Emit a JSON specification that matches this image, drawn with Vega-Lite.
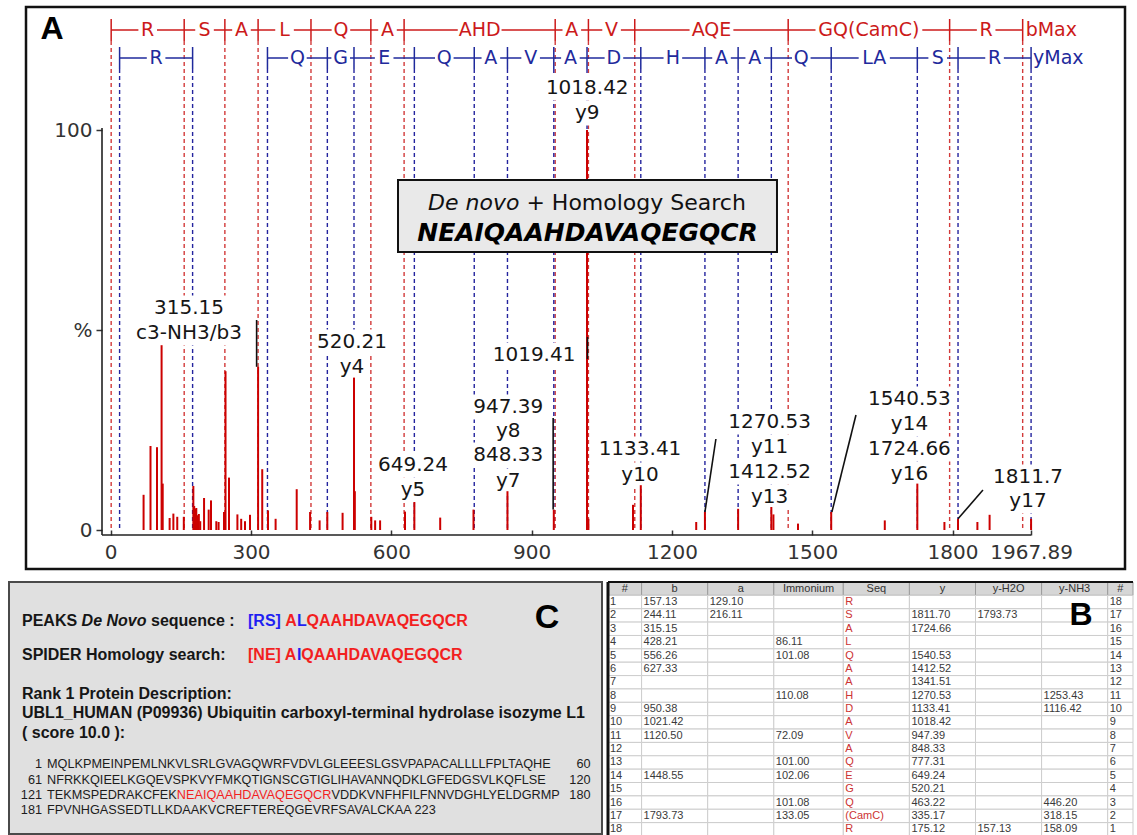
{
  "$schema": "https://vega.github.io/schema/vega-lite/v6.json",
  "background": "white",
  "padding": {"left": 8, "top": 5, "right": 0, "bottom": 0},
  "spacing": 9,
  "config": {"view": {"stroke": null}, "font": "Liberation Sans"},
  "datasets": {
    "peaks": [
      {"mz": 70.3, "I": 8.8}, {"mz": 85.1, "I": 21}, {"mz": 99, "I": 20.7}, {"mz": 108.8, "I": 46.2}, {"mz": 111.2, "I": 11.6},
      {"mz": 126, "I": 3}, {"mz": 134, "I": 4.1}, {"mz": 142.3, "I": 3.3}, {"mz": 156.3, "I": 3.3}, {"mz": 176.7, "I": 11},
      {"mz": 178.5, "I": 6}, {"mz": 180.8, "I": 5.3}, {"mz": 183, "I": 5.5}, {"mz": 186.6, "I": 3.7}, {"mz": 188.5, "I": 4},
      {"mz": 191.4, "I": 2.2}, {"mz": 199.6, "I": 8}, {"mz": 209.5, "I": 5.1}, {"mz": 214.4, "I": 7.4}, {"mz": 225.8, "I": 2.2},
      {"mz": 230.7, "I": 2}, {"mz": 242.2, "I": 4.5}, {"mz": 245.5, "I": 39.7}, {"mz": 252.9, "I": 13.1}, {"mz": 270.9, "I": 3.9},
      {"mz": 279, "I": 2.8}, {"mz": 287.2, "I": 2.2}, {"mz": 297.8, "I": 3.8}, {"mz": 315.15, "I": 40.8}, {"mz": 324, "I": 15.2},
      {"mz": 336.3, "I": 4.9}, {"mz": 352.6, "I": 2.8}, {"mz": 397.7, "I": 10.2}, {"mz": 426.3, "I": 4.5}, {"mz": 446.7, "I": 2.4},
      {"mz": 463.1, "I": 4.5}, {"mz": 495.8, "I": 4.3}, {"mz": 520.21, "I": 38.1}, {"mz": 522, "I": 9.7}, {"mz": 557.2, "I": 3.3},
      {"mz": 565.4, "I": 2.4}, {"mz": 576, "I": 2.4}, {"mz": 629.3, "I": 4.6}, {"mz": 649.24, "I": 7}, {"mz": 704.5, "I": 3.1},
      {"mz": 775.7, "I": 5.1}, {"mz": 848.33, "I": 9.7}, {"mz": 947.39, "I": 5.1}, {"mz": 1018.42, "I": 100}, {"mz": 1021.4, "I": 2.8},
      {"mz": 1116.8, "I": 6.3}, {"mz": 1133.41, "I": 11.2}, {"mz": 1251.9, "I": 2}, {"mz": 1270.53, "I": 4.5}, {"mz": 1341.51, "I": 5.3},
      {"mz": 1412.52, "I": 5.75}, {"mz": 1417, "I": 3.9}, {"mz": 1469.5, "I": 1.6}, {"mz": 1540.53, "I": 4.5}, {"mz": 1655.1, "I": 2.4},
      {"mz": 1724.66, "I": 11.6}, {"mz": 1782.6, "I": 2}, {"mz": 1811.7, "I": 2.8}, {"mz": 1853.1, "I": 2}, {"mz": 1879.2, "I": 3.8},
      {"mz": 1967.89, "I": 2.8}
    ],
    "bions": [
      {"mz": 1.01}, {"mz": 157.13}, {"mz": 244.11}, {"mz": 315.15}, {"mz": 428.21}, {"mz": 556.26}, {"mz": 627.33},
      {"mz": 950.38}, {"mz": 1021.42}, {"mz": 1120.5}, {"mz": 1448.55}, {"mz": 1793.73}, {"mz": 1949.9}
    ],
    "yions": [
      {"mz": 19.02}, {"mz": 175.12}, {"mz": 335.17}, {"mz": 463.22}, {"mz": 520.21}, {"mz": 649.24}, {"mz": 777.31},
      {"mz": 848.33}, {"mz": 947.39}, {"mz": 1018.42}, {"mz": 1133.41}, {"mz": 1270.53}, {"mz": 1341.51}, {"mz": 1412.52},
      {"mz": 1540.53}, {"mz": 1724.66}, {"mz": 1811.7}, {"mz": 1967.89}
    ],
    "bseg": [
      {"mz": 1.01, "mz2": 157.13, "res": "R"}, {"mz": 157.13, "mz2": 244.11, "res": "S"}, {"mz": 244.11, "mz2": 315.15, "res": "A"},
      {"mz": 315.15, "mz2": 428.21, "res": "L"}, {"mz": 428.21, "mz2": 556.26, "res": "Q"}, {"mz": 556.26, "mz2": 627.33, "res": "A"},
      {"mz": 627.33, "mz2": 950.38, "res": "AHD"}, {"mz": 950.38, "mz2": 1021.42, "res": "A"}, {"mz": 1021.42, "mz2": 1120.5, "res": "V"},
      {"mz": 1120.5, "mz2": 1448.55, "res": "AQE"}, {"mz": 1448.55, "mz2": 1793.73, "res": "GQ(CamC)"}, {"mz": 1793.73, "mz2": 1949.9, "res": "R"}
    ],
    "yseg": [
      {"mz": 19.02, "mz2": 175.12, "res": "R"}, {"mz": 335.17, "mz2": 463.22, "res": "Q"}, {"mz": 463.22, "mz2": 520.21, "res": "G"},
      {"mz": 520.21, "mz2": 649.24, "res": "E"}, {"mz": 649.24, "mz2": 777.31, "res": "Q"}, {"mz": 777.31, "mz2": 848.33, "res": "A"},
      {"mz": 848.33, "mz2": 947.39, "res": "V"}, {"mz": 947.39, "mz2": 1018.42, "res": "A"}, {"mz": 1018.42, "mz2": 1133.41, "res": "D"},
      {"mz": 1133.41, "mz2": 1270.53, "res": "H"}, {"mz": 1270.53, "mz2": 1341.51, "res": "A"}, {"mz": 1341.51, "mz2": 1412.52, "res": "A"},
      {"mz": 1412.52, "mz2": 1540.53, "res": "Q"}, {"mz": 1540.53, "mz2": 1724.66, "res": "LA"}, {"mz": 1724.66, "mz2": 1811.7, "res": "S"},
      {"mz": 1811.7, "mz2": 1967.89, "res": "R"}
    ],
    "labels": [
      {"t": "1018.42", "mz": 1018.9, "I": 110.5}, {"t": "y9", "mz": 1018.9, "I": 104.25},
      {"t": "315.15", "mz": 167.4, "I": 55.5}, {"t": "c3-NH3/b3", "mz": 167.4, "I": 49.25},
      {"t": "520.21", "mz": 515.8, "I": 47}, {"t": "y4", "mz": 515.8, "I": 40.75},
      {"t": "1019.41", "mz": 905.2, "I": 43.75},
      {"t": "947.39", "mz": 849.9, "I": 30.75}, {"t": "y8", "mz": 849.9, "I": 24.75},
      {"t": "848.33", "mz": 849.9, "I": 18.75}, {"t": "y7", "mz": 849.9, "I": 12.25},
      {"t": "649.24", "mz": 646.4, "I": 16.25}, {"t": "y5", "mz": 646.4, "I": 10},
      {"t": "1133.41", "mz": 1131.7, "I": 20.25}, {"t": "y10", "mz": 1131.7, "I": 13.75},
      {"t": "1270.53", "mz": 1408.8, "I": 27}, {"t": "y11", "mz": 1408.8, "I": 20.75},
      {"t": "1412.52", "mz": 1408.8, "I": 14.5}, {"t": "y13", "mz": 1408.8, "I": 8.25},
      {"t": "1540.53", "mz": 1707.9, "I": 32.75}, {"t": "y14", "mz": 1707.9, "I": 26.5},
      {"t": "1724.66", "mz": 1707.9, "I": 20.25}, {"t": "y16", "mz": 1707.9, "I": 14},
      {"t": "1811.7", "mz": 1961.3, "I": 13.25}, {"t": "y17", "mz": 1961.3, "I": 7.25}
    ],
    "leaders": [
      {"mz": 312, "I": 40.8, "mz2": 312, "I2": 52.5},
      {"mz": 1019.5, "I": 42.75, "mz2": 1019.5, "I2": 48.25},
      {"mz": 946, "I": 5.1, "mz2": 946, "I2": 28},
      {"mz": 1270.5, "I": 4.5, "mz2": 1294, "I2": 22.75},
      {"mz": 1542, "I": 4.5, "mz2": 1593.5, "I2": 28.75},
      {"mz": 1811.7, "I": 2.8, "mz2": 1865, "I2": 10}
    ],
    "axislines": [
      {"mz": -18.6, "mz2": 1967.89, "I": -1.25, "I2": -1.25},
      {"mz": -18.6, "mz2": -18.6, "I": -1.25, "I2": 100.5}
    ],
    "columns": [
      {"col": "n", "label": "#", "x0": 0, "x1": 33.6},
      {"col": "b", "label": "b", "x0": 33.6, "x1": 99.7},
      {"col": "a", "label": "a", "x0": 99.7, "x1": 165.8},
      {"col": "imm", "label": "Immonium", "x0": 165.8, "x1": 235.3},
      {"col": "seq", "label": "Seq", "x0": 235.3, "x1": 301.4},
      {"col": "y", "label": "y", "x0": 301.4, "x1": 367.5},
      {"col": "yh2o", "label": "y-H2O", "x0": 367.5, "x1": 433.6},
      {"col": "ynh3", "label": "y-NH3", "x0": 433.6, "x1": 499.7},
      {"col": "n2", "label": "#", "x0": 499.7, "x1": 525}
    ],
    "table": [
      {"r": 1, "n": "1", "b": "157.13", "a": "129.10", "imm": "", "seq": "R", "y": "", "yh2o": "", "ynh3": "", "n2": "18"},
      {"r": 2, "n": "2", "b": "244.11", "a": "216.11", "imm": "", "seq": "S", "y": "1811.70", "yh2o": "1793.73", "ynh3": "", "n2": "17"},
      {"r": 3, "n": "3", "b": "315.15", "a": "", "imm": "", "seq": "A", "y": "1724.66", "yh2o": "", "ynh3": "", "n2": "16"},
      {"r": 4, "n": "4", "b": "428.21", "a": "", "imm": "86.11", "seq": "L", "y": "", "yh2o": "", "ynh3": "", "n2": "15"},
      {"r": 5, "n": "5", "b": "556.26", "a": "", "imm": "101.08", "seq": "Q", "y": "1540.53", "yh2o": "", "ynh3": "", "n2": "14"},
      {"r": 6, "n": "6", "b": "627.33", "a": "", "imm": "", "seq": "A", "y": "1412.52", "yh2o": "", "ynh3": "", "n2": "13"},
      {"r": 7, "n": "7", "b": "", "a": "", "imm": "", "seq": "A", "y": "1341.51", "yh2o": "", "ynh3": "", "n2": "12"},
      {"r": 8, "n": "8", "b": "", "a": "", "imm": "110.08", "seq": "H", "y": "1270.53", "yh2o": "", "ynh3": "1253.43", "n2": "11"},
      {"r": 9, "n": "9", "b": "950.38", "a": "", "imm": "", "seq": "D", "y": "1133.41", "yh2o": "", "ynh3": "1116.42", "n2": "10"},
      {"r": 10, "n": "10", "b": "1021.42", "a": "", "imm": "", "seq": "A", "y": "1018.42", "yh2o": "", "ynh3": "", "n2": "9"},
      {"r": 11, "n": "11", "b": "1120.50", "a": "", "imm": "72.09", "seq": "V", "y": "947.39", "yh2o": "", "ynh3": "", "n2": "8"},
      {"r": 12, "n": "12", "b": "", "a": "", "imm": "", "seq": "A", "y": "848.33", "yh2o": "", "ynh3": "", "n2": "7"},
      {"r": 13, "n": "13", "b": "", "a": "", "imm": "101.00", "seq": "Q", "y": "777.31", "yh2o": "", "ynh3": "", "n2": "6"},
      {"r": 14, "n": "14", "b": "1448.55", "a": "", "imm": "102.06", "seq": "E", "y": "649.24", "yh2o": "", "ynh3": "", "n2": "5"},
      {"r": 15, "n": "15", "b": "", "a": "", "imm": "", "seq": "G", "y": "520.21", "yh2o": "", "ynh3": "", "n2": "4"},
      {"r": 16, "n": "16", "b": "", "a": "", "imm": "101.08", "seq": "Q", "y": "463.22", "yh2o": "", "ynh3": "446.20", "n2": "3"},
      {"r": 17, "n": "17", "b": "1793.73", "a": "", "imm": "133.05", "seq": "(CamC)", "y": "335.17", "yh2o": "", "ynh3": "318.15", "n2": "2"},
      {"r": 18, "n": "18", "b": "", "a": "", "imm": "", "seq": "R", "y": "175.12", "yh2o": "157.13", "ynh3": "158.09", "n2": "1"}
    ],
    "ctext": [
      {"kind": "label", "t": "PEAKS", "x": 13, "y": 39},
      {"kind": "label-it", "t": "De Novo", "x": 72.6, "y": 39},
      {"kind": "label", "t": "sequence :", "x": 142, "y": 39},
      {"kind": "blue", "t": "[RS]", "x": 239, "y": 39},
      {"kind": "red", "t": "A", "x": 276.3, "y": 39},
      {"kind": "blue", "t": "L", "x": 287.9, "y": 39},
      {"kind": "red", "t": "QAAHDAVAQEGQCR", "x": 297.6, "y": 39},
      {"kind": "label", "t": "SPIDER Homology search:", "x": 13, "y": 73},
      {"kind": "red", "t": "[NE] A", "x": 239, "y": 73},
      {"kind": "blue", "t": "I", "x": 287.9, "y": 73},
      {"kind": "red", "t": "QAAHDAVAQEGQCR", "x": 292.3, "y": 73},
      {"kind": "label", "t": "Rank 1 Protein Description:", "x": 13, "y": 112},
      {"kind": "label", "t": "UBL1_HUMAN (P09936) Ubiquitin carboxyl-terminal hydrolase isozyme L1", "x": 13, "y": 131},
      {"kind": "label", "t": "( score 10.0 ):", "x": 13, "y": 151},
      {"kind": "num", "t": "1", "x": 33, "y": 182},
      {"kind": "seq", "t": "MQLKPMEINPEMLNKVLSRLGVAGQWRFVDVLGLEEESLGSVPAPACALLLLFPLTAQHE", "x": 38, "y": 182},
      {"kind": "num", "t": "60", "x": 581.5, "y": 182},
      {"kind": "num", "t": "61", "x": 33, "y": 197.5},
      {"kind": "seq", "t": "NFRKKQIEELKGQEVSPKVYFMKQTIGNSCGTIGLIHAVANNQDKLGFEDGSVLKQFLSE", "x": 38, "y": 197.5},
      {"kind": "num", "t": "120", "x": 581.5, "y": 197.5},
      {"kind": "num", "t": "121", "x": 33, "y": 213},
      {"kind": "seq", "t": "TEKMSPEDRAKCFEK", "x": 38, "y": 213},
      {"kind": "seq-red", "t": "NEAIQAAHDAVAQEGQCR", "x": 167.8, "y": 213},
      {"kind": "seq", "t": "VDDKVNFHFILFNNVDGHLYELDGRMP", "x": 322.6, "y": 213},
      {"kind": "num", "t": "180", "x": 581.5, "y": 213},
      {"kind": "num", "t": "181", "x": 33, "y": 228},
      {"kind": "seq", "t": "FPVNHGASSEDTLLKDAAKVCREFTEREQGEVRFSAVALCKAA 223", "x": 38, "y": 228},
      {"kind": "big", "t": "C", "x": 538, "y": 36}
    ]
  },
  "vconcat": [
    {
      "hconcat": [
        {"width": 15, "height": 10, "data": {"values": [{}]}, "mark": {"type": "point", "opacity": 0, "size": 1}},
        {
          "width": 1099,
          "height": 562,
          "view": {"stroke": "#111111", "strokeWidth": 2.5, "fill": "white"},
          "layer": [
            {
              "data": {"name": "bions"},
              "mark": {"type": "rule", "color": "#d23a3a", "strokeWidth": 1.4, "strokeDash": [4, 3]},
              "encoding": {
                "x": {"field": "mz", "type": "quantitative", "scale": {"domain": [-181.1, 2168.7], "nice": false, "zero": false}},
                "y": {"datum": 122.25, "type": "quantitative", "scale": {"domain": [-9.75, 130.75], "nice": false, "zero": false}},
                "y2": {"datum": 0}
              }
            },
            {
              "data": {"name": "yions"},
              "mark": {"type": "rule", "color": "#24249e", "strokeWidth": 1.4, "strokeDash": [4, 3]},
              "encoding": {
                "x": {"field": "mz", "type": "quantitative", "scale": {"domain": [-181.1, 2168.7], "nice": false, "zero": false}},
                "y": {"datum": 115.25, "type": "quantitative", "scale": {"domain": [-9.75, 130.75], "nice": false, "zero": false}},
                "y2": {"datum": 0}
              }
            },
            {
              "data": {"name": "bseg"},
              "mark": {"type": "rule", "color": "#cc1a1a", "strokeWidth": 1.5},
              "encoding": {
                "x": {"field": "mz", "type": "quantitative", "scale": {"domain": [-181.1, 2168.7], "nice": false, "zero": false}},
                "x2": {"field": "mz2"},
                "y": {"datum": 125, "type": "quantitative", "scale": {"domain": [-9.75, 130.75], "nice": false, "zero": false}}
              }
            },
            {
              "data": {"name": "bions"},
              "mark": {"type": "rule", "color": "#cc1a1a", "strokeWidth": 1.5},
              "encoding": {
                "x": {"field": "mz", "type": "quantitative", "scale": {"domain": [-181.1, 2168.7], "nice": false, "zero": false}},
                "y": {"datum": 127.75, "type": "quantitative", "scale": {"domain": [-9.75, 130.75], "nice": false, "zero": false}},
                "y2": {"datum": 122.25}
              }
            },
            {
              "data": {"name": "yseg"},
              "mark": {"type": "rule", "color": "#1f2a9c", "strokeWidth": 1.5},
              "encoding": {
                "x": {"field": "mz", "type": "quantitative", "scale": {"domain": [-181.1, 2168.7], "nice": false, "zero": false}},
                "x2": {"field": "mz2"},
                "y": {"datum": 118, "type": "quantitative", "scale": {"domain": [-9.75, 130.75], "nice": false, "zero": false}}
              }
            },
            {
              "data": {"name": "yions"},
              "mark": {"type": "rule", "color": "#1f2a9c", "strokeWidth": 1.5},
              "encoding": {
                "x": {"field": "mz", "type": "quantitative", "scale": {"domain": [-181.1, 2168.7], "nice": false, "zero": false}},
                "y": {"datum": 120.75, "type": "quantitative", "scale": {"domain": [-9.75, 130.75], "nice": false, "zero": false}},
                "y2": {"datum": 115.25}
              }
            },
            {
              "data": {"name": "bseg"},
              "transform": [
                {"calculate": "(datum.mz + datum.mz2) / 2", "as": "mid"},
                {"calculate": "(length(datum.res) * 6.3 + 3) / 0.4677", "as": "hw"},
                {"calculate": "datum.mid - datum.hw", "as": "bx1"},
                {"calculate": "datum.mid + datum.hw", "as": "bx2"}
              ],
              "mark": {"type": "rect", "fill": "white"},
              "encoding": {
                "x": {"field": "bx1", "type": "quantitative", "scale": {"domain": [-181.1, 2168.7], "nice": false, "zero": false}},
                "x2": {"field": "bx2"},
                "y": {"datum": 122.9, "type": "quantitative", "scale": {"domain": [-9.75, 130.75], "nice": false, "zero": false}},
                "y2": {"datum": 127.1}
              }
            },
            {
              "data": {"name": "yseg"},
              "transform": [
                {"calculate": "(datum.mz + datum.mz2) / 2", "as": "mid"},
                {"calculate": "(length(datum.res) * 6.3 + 3) / 0.4677", "as": "hw"},
                {"calculate": "datum.mid - datum.hw", "as": "bx1"},
                {"calculate": "datum.mid + datum.hw", "as": "bx2"}
              ],
              "mark": {"type": "rect", "fill": "white"},
              "encoding": {
                "x": {"field": "bx1", "type": "quantitative", "scale": {"domain": [-181.1, 2168.7], "nice": false, "zero": false}},
                "x2": {"field": "bx2"},
                "y": {"datum": 115.9, "type": "quantitative", "scale": {"domain": [-9.75, 130.75], "nice": false, "zero": false}},
                "y2": {"datum": 120.1}
              }
            },
            {
              "data": {"name": "bseg"},
              "transform": [{"calculate": "(datum.mz + datum.mz2) / 2", "as": "mid"}],
              "mark": {"type": "text", "font": "DejaVu Sans", "fontSize": 19, "color": "#cc1a1a", "baseline": "middle"},
              "encoding": {
                "x": {"field": "mid", "type": "quantitative", "scale": {"domain": [-181.1, 2168.7], "nice": false, "zero": false}},
                "y": {"datum": 125, "type": "quantitative", "scale": {"domain": [-9.75, 130.75], "nice": false, "zero": false}},
                "text": {"field": "res"}
              }
            },
            {
              "data": {"name": "yseg"},
              "transform": [{"calculate": "(datum.mz + datum.mz2) / 2", "as": "mid"}],
              "mark": {"type": "text", "font": "DejaVu Sans", "fontSize": 19, "color": "#1f2a9c", "baseline": "middle"},
              "encoding": {
                "x": {"field": "mid", "type": "quantitative", "scale": {"domain": [-181.1, 2168.7], "nice": false, "zero": false}},
                "y": {"datum": 118, "type": "quantitative", "scale": {"domain": [-9.75, 130.75], "nice": false, "zero": false}},
                "text": {"field": "res"}
              }
            },
            {
              "data": {"values": [{"t": "bMax", "mz": 1949.9}]},
              "mark": {"type": "text", "font": "DejaVu Sans", "fontSize": 19, "color": "#cc1a1a", "baseline": "middle", "align": "left", "dx": 3},
              "encoding": {
                "x": {"field": "mz", "type": "quantitative", "scale": {"domain": [-181.1, 2168.7], "nice": false, "zero": false}},
                "y": {"datum": 125, "type": "quantitative", "scale": {"domain": [-9.75, 130.75], "nice": false, "zero": false}},
                "text": {"field": "t"}
              }
            },
            {
              "data": {"values": [{"t": "yMax", "mz": 1967.89}]},
              "mark": {"type": "text", "font": "DejaVu Sans", "fontSize": 19, "color": "#1f2a9c", "baseline": "middle", "align": "left", "dx": 2},
              "encoding": {
                "x": {"field": "mz", "type": "quantitative", "scale": {"domain": [-181.1, 2168.7], "nice": false, "zero": false}},
                "y": {"datum": 118, "type": "quantitative", "scale": {"domain": [-9.75, 130.75], "nice": false, "zero": false}},
                "text": {"field": "t"}
              }
            },
            {
              "data": {"name": "labels"},
              "transform": [
                {"calculate": "(length(datum.t) * 6 + 4) / 0.4677", "as": "hw"},
                {"calculate": "datum.mz - datum.hw", "as": "bx1"},
                {"calculate": "datum.mz + datum.hw", "as": "bx2"},
                {"calculate": "datum.I - 3.15", "as": "by1"},
                {"calculate": "datum.I + 3.15", "as": "by2"}
              ],
              "mark": {"type": "rect", "fill": "white"},
              "encoding": {
                "x": {"field": "bx1", "type": "quantitative", "scale": {"domain": [-181.1, 2168.7], "nice": false, "zero": false}},
                "x2": {"field": "bx2"},
                "y": {"field": "by1", "type": "quantitative", "scale": {"domain": [-9.75, 130.75], "nice": false, "zero": false}},
                "y2": {"field": "by2"}
              }
            },
            {
              "data": {"name": "peaks"},
              "mark": {"type": "rule", "color": "#cc0000", "strokeWidth": 2},
              "encoding": {
                "x": {
                  "field": "mz", "type": "quantitative",
                  "scale": {"domain": [-181.1, 2168.7], "nice": false, "zero": false},
                  "axis": {
                    "orient": "bottom", "offset": -34, "domain": false, "grid": false,
                    "values": [0, 300, 600, 900, 1200, 1500, 1800, 1967.89],
                    "labelExpr": "datum.value > 1900 ? '1967.89' : format(datum.value, 'd')",
                    "tickSize": -5, "tickColor": "#333333", "tickWidth": 1.5,
                    "labelFont": "DejaVu Sans", "labelFontSize": 20, "labelColor": "#333333",
                    "labelPadding": 12, "labelOverlap": false, "labelFlush": false, "title": null
                  }
                },
                "y": {
                  "field": "I", "type": "quantitative",
                  "scale": {"domain": [-9.75, 130.75], "nice": false, "zero": false},
                  "axis": {
                    "orient": "left", "offset": -76, "domain": false, "grid": false,
                    "values": [0, 50, 100],
                    "labelExpr": "datum.value == 50 ? '%' : format(datum.value, 'd')",
                    "tickSize": 6, "tickColor": "#333333", "tickWidth": 1.5,
                    "labelFont": "DejaVu Sans", "labelFontSize": 20, "labelColor": "#333333",
                    "labelPadding": 4, "title": null
                  }
                },
                "y2": {"datum": 0}
              }
            },
            {
              "data": {"name": "leaders"},
              "mark": {"type": "rule", "color": "#111111", "strokeWidth": 1.6},
              "encoding": {
                "x": {"field": "mz", "type": "quantitative", "scale": {"domain": [-181.1, 2168.7], "nice": false, "zero": false}},
                "x2": {"field": "mz2"},
                "y": {"field": "I", "type": "quantitative", "scale": {"domain": [-9.75, 130.75], "nice": false, "zero": false}},
                "y2": {"field": "I2"}
              }
            },
            {
              "data": {"name": "labels"},
              "mark": {"type": "text", "font": "DejaVu Sans", "fontSize": 20, "color": "#161616", "baseline": "middle"},
              "encoding": {
                "x": {"field": "mz", "type": "quantitative", "scale": {"domain": [-181.1, 2168.7], "nice": false, "zero": false}},
                "y": {"field": "I", "type": "quantitative", "scale": {"domain": [-9.75, 130.75], "nice": false, "zero": false}},
                "text": {"field": "t"}
              }
            },
            {
              "data": {"name": "axislines"},
              "mark": {"type": "rule", "color": "#222222", "strokeWidth": 1.6},
              "encoding": {
                "x": {"field": "mz", "type": "quantitative", "scale": {"domain": [-181.1, 2168.7], "nice": false, "zero": false}},
                "x2": {"field": "mz2"},
                "y": {"field": "I", "type": "quantitative", "scale": {"domain": [-9.75, 130.75], "nice": false, "zero": false}},
                "y2": {"field": "I2"}
              }
            },
            {
              "data": {"values": [{"mz": 614.3, "mz2": 1424.6, "I": 87.5, "I2": 69.5}]},
              "mark": {"type": "rect", "fill": "#e9e9e9", "stroke": "#111111", "strokeWidth": 2},
              "encoding": {
                "x": {"field": "mz", "type": "quantitative", "scale": {"domain": [-181.1, 2168.7], "nice": false, "zero": false}},
                "x2": {"field": "mz2"},
                "y": {"field": "I", "type": "quantitative", "scale": {"domain": [-9.75, 130.75], "nice": false, "zero": false}},
                "y2": {"field": "I2"}
              }
            },
            {
              "data": {"values": [{"t": "De novo", "mz": 873.9, "I": 81.75}]},
              "mark": {"type": "text", "font": "DejaVu Sans", "fontSize": 22, "fontStyle": "italic", "color": "#111111", "align": "right", "baseline": "middle"},
              "encoding": {
                "x": {"field": "mz", "type": "quantitative", "scale": {"domain": [-181.1, 2168.7], "nice": false, "zero": false}},
                "y": {"field": "I", "type": "quantitative", "scale": {"domain": [-9.75, 130.75], "nice": false, "zero": false}},
                "text": {"field": "t"}
              }
            },
            {
              "data": {"values": [{"t": "+ Homology Search", "mz": 873.9, "I": 81.75}]},
              "mark": {"type": "text", "font": "DejaVu Sans", "fontSize": 22, "color": "#111111", "align": "left", "baseline": "middle", "dx": 7},
              "encoding": {
                "x": {"field": "mz", "type": "quantitative", "scale": {"domain": [-181.1, 2168.7], "nice": false, "zero": false}},
                "y": {"field": "I", "type": "quantitative", "scale": {"domain": [-9.75, 130.75], "nice": false, "zero": false}},
                "text": {"field": "t"}
              }
            },
            {
              "data": {"values": [{"t": "NEAIQAAHDAVAQEGQCR", "mz": 1019.5, "I": 74.25}]},
              "mark": {"type": "text", "font": "DejaVu Sans", "fontSize": 25, "fontStyle": "italic", "fontWeight": "bold", "color": "#000000", "align": "center", "baseline": "middle"},
              "encoding": {
                "x": {"field": "mz", "type": "quantitative", "scale": {"domain": [-181.1, 2168.7], "nice": false, "zero": false}},
                "y": {"field": "I", "type": "quantitative", "scale": {"domain": [-9.75, 130.75], "nice": false, "zero": false}},
                "text": {"field": "t"}
              }
            },
            {
              "data": {"values": [{"t": "A", "mz": -125.5, "I": 125.25}]},
              "mark": {"type": "text", "font": "Liberation Sans", "fontSize": 32, "fontWeight": "bold", "color": "#000000", "align": "center", "baseline": "middle"},
              "encoding": {
                "x": {"field": "mz", "type": "quantitative", "scale": {"domain": [-181.1, 2168.7], "nice": false, "zero": false}},
                "y": {"field": "I", "type": "quantitative", "scale": {"domain": [-9.75, 130.75], "nice": false, "zero": false}},
                "text": {"field": "t"}
              }
            }
          ]
        }
      ],
      "spacing": 0
    },
    {
      "hconcat": [
        {
          "width": 593,
          "height": 252,
          "view": {"fill": "#e0e0e0", "stroke": "#4a4a4a", "strokeWidth": 2},
          "data": {"name": "ctext"},
          "encoding": {
            "x": {"field": "x", "type": "quantitative", "scale": {"domain": [0, 593], "nice": false, "zero": false}, "axis": null},
            "y": {"field": "y", "type": "quantitative", "scale": {"domain": [0, 252], "nice": false, "zero": false, "reverse": true}, "axis": null},
            "text": {"field": "t"},
            "color": {
              "field": "kind", "type": "nominal", "legend": null,
              "scale": {
                "domain": ["label", "label-it", "blue", "red", "seq", "seq-red", "num", "big"],
                "range": ["#161616", "#161616", "#1f1ff2", "#f21f1f", "#1c1c1c", "#f21f1f", "#1c1c1c", "#000000"]
              }
            }
          },
          "layer": [
            {
              "transform": [{"filter": {"field": "kind", "oneOf": ["label", "blue", "red"]}}],
              "mark": {"type": "text", "align": "left", "baseline": "middle", "fontWeight": "bold", "fontSize": 16, "font": "Liberation Sans"}
            },
            {
              "transform": [{"filter": {"field": "kind", "equal": "label-it"}}],
              "mark": {"type": "text", "align": "left", "baseline": "middle", "fontWeight": "bold", "fontStyle": "italic", "fontSize": 16, "font": "Liberation Sans"}
            },
            {
              "transform": [{"filter": {"field": "kind", "oneOf": ["seq", "seq-red"]}}],
              "mark": {"type": "text", "align": "left", "baseline": "middle", "fontSize": 12.7, "font": "Liberation Sans"}
            },
            {
              "transform": [{"filter": {"field": "kind", "equal": "num"}}],
              "mark": {"type": "text", "align": "right", "baseline": "middle", "fontSize": 12.7, "font": "Liberation Sans"}
            },
            {
              "transform": [{"filter": {"field": "kind", "equal": "big"}}],
              "mark": {"type": "text", "align": "center", "baseline": "middle", "fontSize": 34, "fontWeight": "bold", "font": "Liberation Sans"}
            }
          ]
        },
        {
          "width": 525,
          "height": 254,
          "view": {"fill": "white"},
          "layer": [
            {
              "data": {"name": "columns"},
              "transform": [{"calculate": "0", "as": "r"}],
              "mark": {"type": "rect", "fill": "#d6d6d6", "stroke": "#9c9c9c", "strokeWidth": 1},
              "encoding": {
                "x": {"field": "x0", "type": "quantitative", "scale": {"domain": [0, 525], "nice": false, "zero": false}, "axis": null},
                "x2": {"field": "x1"},
                "y": {"field": "r", "type": "ordinal", "scale": {"domain": [0, 1, 2, 3, 4, 5, 6, 7, 8, 9, 10, 11, 12, 13, 14, 15, 16, 17, 18], "paddingInner": 0, "paddingOuter": 0}, "axis": null}
              }
            },
            {
              "data": {"name": "table"},
              "transform": [
                {"fold": ["n", "b", "a", "imm", "seq", "y", "yh2o", "ynh3", "n2"], "as": ["col", "v"]},
                {"lookup": "col", "from": {"data": {"name": "columns"}, "key": "col", "fields": ["x0", "x1"]}}
              ],
              "mark": {"type": "rect", "fill": "white", "stroke": "#cdcdcd", "strokeWidth": 1},
              "encoding": {
                "x": {"field": "x0", "type": "quantitative", "scale": {"domain": [0, 525], "nice": false, "zero": false}, "axis": null},
                "x2": {"field": "x1"},
                "y": {"field": "r", "type": "ordinal", "scale": {"domain": [0, 1, 2, 3, 4, 5, 6, 7, 8, 9, 10, 11, 12, 13, 14, 15, 16, 17, 18], "paddingInner": 0, "paddingOuter": 0}, "axis": null}
              }
            },
            {
              "data": {"name": "columns"},
              "transform": [{"calculate": "0", "as": "r"}, {"calculate": "(datum.x0 + datum.x1) / 2", "as": "xm"}],
              "mark": {"type": "text", "fontSize": 11, "color": "#333333", "baseline": "middle", "align": "center", "font": "Liberation Sans"},
              "encoding": {
                "x": {"field": "xm", "type": "quantitative", "scale": {"domain": [0, 525], "nice": false, "zero": false}, "axis": null},
                "y": {"field": "r", "type": "ordinal", "scale": {"domain": [0, 1, 2, 3, 4, 5, 6, 7, 8, 9, 10, 11, 12, 13, 14, 15, 16, 17, 18], "paddingInner": 0, "paddingOuter": 0}, "axis": null},
                "text": {"field": "label"}
              }
            },
            {
              "data": {"name": "table"},
              "transform": [
                {"fold": ["n", "b", "a", "imm", "seq", "y", "yh2o", "ynh3", "n2"], "as": ["col", "v"]},
                {"filter": "datum.v != ''"},
                {"lookup": "col", "from": {"data": {"name": "columns"}, "key": "col", "fields": ["x0", "x1"]}}
              ],
              "mark": {"type": "text", "fontSize": 11, "baseline": "middle", "align": "left", "dx": 2, "font": "Liberation Sans"},
              "encoding": {
                "x": {"field": "x0", "type": "quantitative", "scale": {"domain": [0, 525], "nice": false, "zero": false}, "axis": null},
                "y": {"field": "r", "type": "ordinal", "scale": {"domain": [0, 1, 2, 3, 4, 5, 6, 7, 8, 9, 10, 11, 12, 13, 14, 15, 16, 17, 18], "paddingInner": 0, "paddingOuter": 0}, "axis": null},
                "text": {"field": "v"},
                "color": {"condition": {"test": "datum.col == 'seq'", "value": "#cc3333"}, "value": "#3a3a3a"}
              }
            },
            {
              "data": {"values": [{}]},
              "mark": {"type": "rule", "color": "#111111", "strokeWidth": 3},
              "encoding": {
                "x": {"datum": 0, "type": "quantitative", "scale": {"domain": [0, 525], "nice": false, "zero": false}, "axis": null}
              }
            },
            {
              "data": {"values": [{}]},
              "mark": {"type": "rule", "color": "#111111", "strokeWidth": 2},
              "encoding": {
                "y": {"datum": 0, "type": "ordinal", "bandPosition": 0, "scale": {"domain": [0, 1, 2, 3, 4, 5, 6, 7, 8, 9, 10, 11, 12, 13, 14, 15, 16, 17, 18], "paddingInner": 0, "paddingOuter": 0}, "axis": null}
              }
            },
            {
              "data": {"values": [{"t": "B", "x0": 473, "r": 2}]},
              "mark": {"type": "text", "fontSize": 32, "fontWeight": "bold", "color": "#000000", "baseline": "middle", "align": "center", "font": "Liberation Sans"},
              "encoding": {
                "x": {"field": "x0", "type": "quantitative", "scale": {"domain": [0, 525], "nice": false, "zero": false}, "axis": null},
                "y": {"field": "r", "type": "ordinal", "scale": {"domain": [0, 1, 2, 3, 4, 5, 6, 7, 8, 9, 10, 11, 12, 13, 14, 15, 16, 17, 18], "paddingInner": 0, "paddingOuter": 0}, "axis": null},
                "text": {"field": "t"}
              }
            }
          ]
        }
      ],
      "spacing": 3
    }
  ]
}
